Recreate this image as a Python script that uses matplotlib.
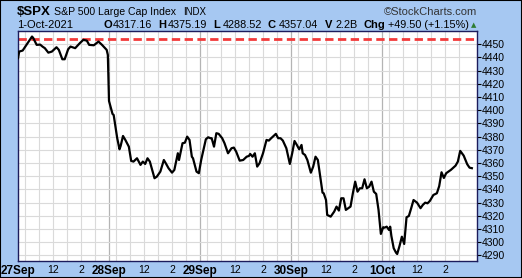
import matplotlib
matplotlib.use("Agg")
import matplotlib.pyplot as plt
import numpy as np

plt.rcParams['font.family'] = ['Liberation Sans', 'DejaVu Sans']

# trading minutes since 27 Sep 09:30 (each session = 390 min)
minutes = [
    0, 5, 20, 60, 65, 80, 95, 105, 115, 130, 145, 165, 175, 190, 200, 215, 225,
    245, 265, 280, 295, 305, 325, 345, 360, 380, 385,
    390, 405, 410, 425, 435, 440, 450, 460, 475, 485, 495, 510, 525, 535, 545,
    555, 565, 585, 595, 610, 625, 635, 645, 660, 670, 685, 690, 705, 715, 725,
    735, 745, 750, 765, 775,
    785, 795, 805, 815, 825, 830, 840, 850, 860, 875, 885, 900, 915, 925, 935,
    950, 965, 980, 990, 995, 1005, 1015, 1025, 1035, 1050, 1065, 1075, 1085,
    1105, 1115, 1125, 1135, 1150, 1165,
    1175, 1185, 1195, 1205, 1215, 1220, 1230, 1240, 1255, 1265, 1275, 1285,
    1295, 1305, 1310, 1320, 1325, 1340, 1355, 1365, 1375, 1385, 1395, 1405,
    1415, 1425, 1435, 1445, 1455, 1465, 1475, 1485, 1495, 1505, 1515, 1525,
    1535, 1545, 1555,
    1565, 1570, 1580, 1590, 1595, 1600, 1610, 1620, 1625, 1635, 1645, 1655,
    1665, 1675, 1685, 1695, 1710, 1725, 1735, 1745, 1755, 1765, 1780, 1795,
    1805, 1815, 1825, 1835, 1855, 1875, 1885, 1895, 1910, 1925, 1935, 1945,
]
prices = [
    4439.4, 4444.4, 4445.2, 4455.8, 4454.8, 4449.5, 4449.7, 4448.2, 4447.0,
    4443.6, 4444.4, 4447.7, 4445.7, 4438.6, 4438.6, 4446.2, 4448.2, 4447.0,
    4450.8, 4453.3, 4452.7, 4449.5, 4449.2, 4452.0, 4449.5, 4445.7, 4441.9,
    4407.0, 4397.2, 4396.4, 4379.0, 4370.4, 4373.0, 4380.5, 4377.5, 4372.4,
    4361.6, 4361.1, 4363.6, 4358.6, 4361.1, 4359.3, 4363.6, 4361.1, 4348.5,
    4349.7, 4353.5, 4362.3, 4359.3, 4356.1, 4352.7, 4354.8, 4367.4, 4362.3,
    4375.0, 4375.4, 4380.0, 4377.5, 4364.8, 4363.6, 4353.5, 4352.3,
    4362.3, 4370.0, 4378.0, 4379.5, 4378.8, 4378.8, 4372.4, 4382.6, 4382.1,
    4378.8, 4375.0, 4367.4, 4371.2, 4371.7, 4368.6, 4361.8, 4362.3, 4364.8,
    4365.4, 4366.9, 4364.8, 4367.4, 4357.3, 4359.8, 4367.4, 4377.5, 4377.0,
    4378.8, 4382.1, 4378.8, 4378.8, 4377.0, 4371.2, 4359.3,
    4367.4, 4376.7, 4373.7, 4370.4, 4373.7, 4367.4, 4366.1, 4362.3, 4352.7,
    4357.3, 4364.8, 4362.3, 4349.7, 4337.6, 4337.1, 4332.0, 4320.7, 4319.4,
    4323.2, 4327.0, 4324.0, 4333.3, 4333.3, 4324.5, 4325.8, 4327.0, 4337.1,
    4345.9, 4338.3, 4340.9, 4340.9, 4347.7, 4340.9, 4342.1, 4345.9, 4338.3,
    4336.6, 4324.5, 4306.3,
    4311.4, 4311.0, 4311.8, 4309.3, 4311.8, 4304.8, 4295.5, 4292.1, 4291.1,
    4297.2, 4304.2, 4298.7, 4318.9, 4319.9, 4325.8, 4332.0, 4330.0, 4325.8,
    4328.3, 4330.0, 4329.5, 4331.3, 4335.8, 4337.1, 4342.5, 4353.0, 4348.7,
    4352.3, 4354.8, 4358.0, 4361.1, 4369.2, 4365.6, 4359.1, 4356.5, 4356.1,
]
prior_high = 4454
day_labels = ["27Sep", "28Sep", "29Sep", "30Sep", "1Oct"]
y_ticks = list(range(4290, 4451, 10))
session = 390

W, H = 522, 278
bg = '#a6c8f2'
fig = plt.figure(figsize=(W / 100, H / 100), dpi=100, facecolor=bg)
fig.patches.append(plt.Rectangle((0, 0), 1, 1, transform=fig.transFigure,
                                 fill=False, edgecolor='black', lw=1.5))

def fx(px):
    return px / W

def fy(py):
    return 1 - py / H

ax = fig.add_axes([fx(18), fy(261), fx(477) - fx(18), fy(31) - fy(261)])
ax.set_facecolor('white')
ax.set_xlim(0, 1967)
ax.set_ylim(4285.8, 4460)

# grid
for d in range(len(day_labels)):
    for h in (30, 90, 150, 210, 270, 330):
        ax.axvline(d * session + h, color='#dadada', lw=0.8, zorder=0)
    if d > 0:
        ax.axvline(d * session, color='#b4b4b4', lw=0.9, zorder=0)
for v in y_ticks + [4460]:
    ax.axhline(v, color='#dadada', lw=0.8, zorder=0)

ax.axhline(prior_high, color='#f23a3a', lw=2, ls=(0, (3, 1.6)), zorder=2)
ax.plot(minutes, prices, color='black', lw=1.6, zorder=3, solid_joinstyle='round')

for s in ax.spines.values():
    s.set_color('#1c1c5c')
    s.set_linewidth(1)

ax.yaxis.tick_right()
ax.set_yticks(y_ticks)
ax.set_yticklabels([str(v) for v in y_ticks])
ax.tick_params(axis='y', length=3, width=0.8, pad=0.5, labelsize=7.5, colors='black')

xt, xl = [], []
for d, name in enumerate(day_labels):
    xt += [d * session, d * session + 150, d * session + 270]
    xl += [name, "12", "2"]
ax.set_xticks(xt)
ax.set_xticklabels(xl)
ax.tick_params(axis='x', length=0, pad=3, labelsize=7.5)
for lab in ax.get_xticklabels():
    if lab.get_text() in day_labels:
        lab.set_fontweight('bold')
        lab.set_fontsize(8.5)

# header
fig.text(fx(17), fy(12), "$SPX", fontsize=9.5, fontweight='bold', va='center')
fig.text(fx(54), fy(12), "S&P 500 Large Cap Index", fontsize=7.6, va='center')
fig.text(fx(183), fy(12), "INDX", fontsize=7, va='center')
fig.text(fx(477), fy(12), "\u00a9StockCharts.com", fontsize=8, va='center',
         ha='right', color='#333333')
fig.text(fx(17), fy(25), "1-Oct-2021", fontsize=8, va='center')
row = [(103, "O", True), (113, "4317.16", False), (158, "H", True),
       (168, "4375.19", False), (213, "L", True), (223, "4288.52", False),
       (268, "C", True), (279, "4357.04", False), (325, "V", True),
       (335, "2.2B", False), (364, "Chg", True), (388, "+49.50 (+1.15%)", False)]
for px, t, b in row:
    fig.text(fx(px), fy(25), t, fontsize=8 if b else 7.8,
             fontweight='bold' if b else 'normal', va='center')
fig.text(fx(471), fy(25), "\u25b2", fontsize=5, color='#2e7d32', va='center',
         family='DejaVu Sans')

fig.savefig("out.png", dpi=100, facecolor=bg)
